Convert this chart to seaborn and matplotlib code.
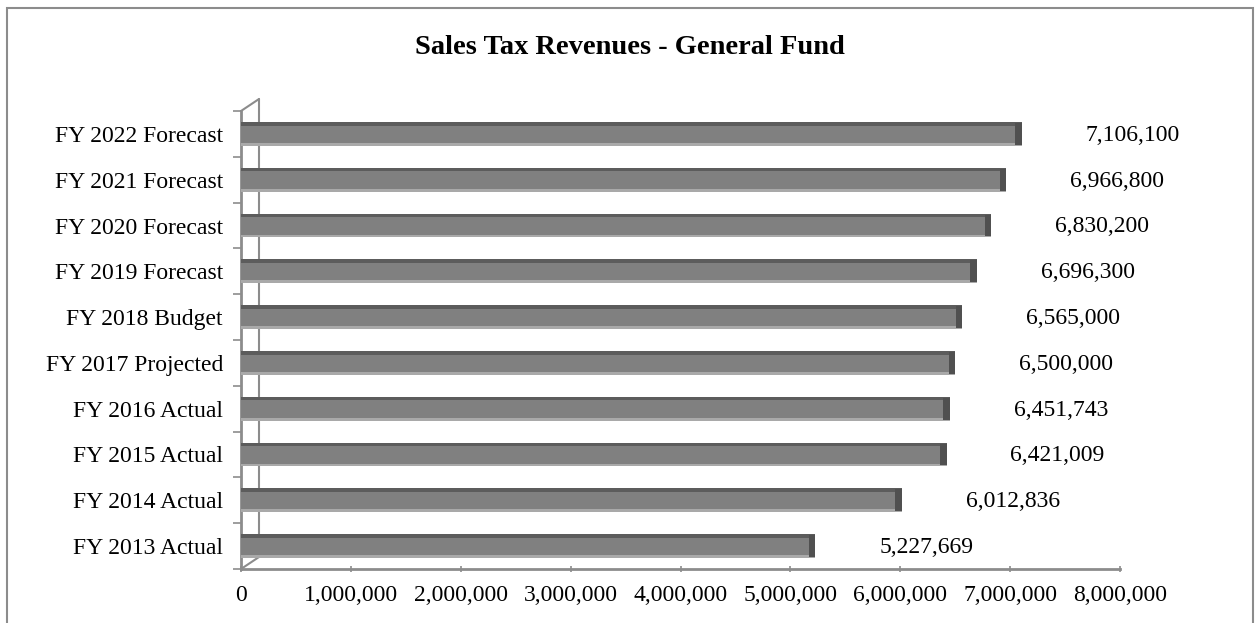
import matplotlib
matplotlib.use("Agg")
import matplotlib.pyplot as plt
from matplotlib.patches import Rectangle
from matplotlib.ticker import FuncFormatter
import seaborn as sns
import pandas as pd

categories = [
    "FY 2022 Forecast", "FY 2021 Forecast", "FY 2020 Forecast", "FY 2019 Forecast",
    "FY 2018 Budget", "FY 2017 Projected", "FY 2016 Actual", "FY 2015 Actual",
    "FY 2014 Actual", "FY 2013 Actual",
]
revenues = [7106100, 6966800, 6830200, 6696300, 6565000, 6500000,
            6451743, 6421009, 6012836, 5227669]
x_ticks = [0, 1000000, 2000000, 3000000, 4000000, 5000000, 6000000, 7000000, 8000000]

df = pd.DataFrame({"category": categories, "revenue": revenues})

sns.set_theme(style="white")
plt.rcParams["font.family"] = ["Liberation Serif", "DejaVu Serif"]
plt.rcParams["text.color"] = "black"

AXIS_GREY = "#8c8c8c"
W, H = 1260, 623
x0, x1, y_top, y_bot = 241, 1120, 111, 569

fig = plt.figure(figsize=(W / 100, H / 100), dpi=100)
ax = fig.add_axes([x0 / W, 1 - y_bot / H, (x1 - x0) / W, (y_bot - y_top) / H])

bar_h = 0.52
sns.barplot(data=df, y="category", x="revenue", orient="h", color="#808080",
            width=bar_h, saturation=1, linewidth=0, ax=ax, zorder=3)

# 3D-style shading: dark top strip, light bottom strip, dark end cap
ypos = list(range(len(categories)))
ax.barh([y - bar_h / 2 + 0.04 for y in ypos], revenues, height=0.08,
        color="#5c5c5c", linewidth=0, zorder=4)
ax.barh([y + bar_h / 2 - 0.03 for y in ypos], revenues, height=0.06,
        color="#a9a9a9", linewidth=0, zorder=4)
ax.barh(ypos, [60000] * len(ypos), left=[v - 60000 for v in revenues],
        height=bar_h - 0.04, color="#505050", linewidth=0, zorder=5)

for y, v in zip(ypos, revenues):
    ax.annotate(f"{v:,}", xy=(v, y), xytext=(46, -1), textcoords="offset points",
                va="center", ha="left", fontsize=17, color="black")

ax.set_xlim(0, 8000000)
ax.set_ylim(len(categories) - 0.5, -0.5)
ax.set_xticks(x_ticks)
ax.xaxis.set_major_formatter(FuncFormatter(lambda v, p: f"{int(v):,}"))
ax.set_xlabel("")
ax.set_ylabel("")

# back wall of the pseudo-3D frame
dx, dy = 18 / (x1 - x0), 12 / (y_bot - y_top)
wall = dict(color=AXIS_GREY, lw=1.5, transform=ax.transAxes, clip_on=False, zorder=1)
ax.plot([dx, dx], [dy, 1 + dy], **wall)
ax.plot([0, dx], [1, 1 + dy], **wall)
ax.plot([0, dx], [0, dy], **wall)

for side in ["top", "right"]:
    ax.spines[side].set_visible(False)
for side in ["left", "bottom"]:
    ax.spines[side].set_color(AXIS_GREY)
    ax.spines[side].set_linewidth(2)

# category separators as ticks on the y axis
ax.set_yticks([y - 0.5 for y in range(len(categories) + 1)], minor=True)
ax.tick_params(axis="y", which="major", length=0, pad=13, labelsize=17,
               labelcolor="black")
ax.tick_params(axis="y", which="minor", left=True, length=6, width=1.2, color=AXIS_GREY)
ax.tick_params(axis="x", which="major", bottom=True, direction="inout", length=5,
               width=1.2, color=AXIS_GREY, pad=9, labelsize=17, labelcolor="black")

fig.text(0.5, 1 - 47 / H, "Sales Tax Revenues - General Fund", ha="center",
         va="center", fontsize=20.5, fontweight="bold", color="black")

fig.patches.append(Rectangle((7 / W, -0.01), 1246 / W, 1 - 8 / H + 0.01,
                             transform=fig.transFigure, fill=False,
                             edgecolor=AXIS_GREY, lw=1.5))

fig.savefig("out.png", dpi=100)
